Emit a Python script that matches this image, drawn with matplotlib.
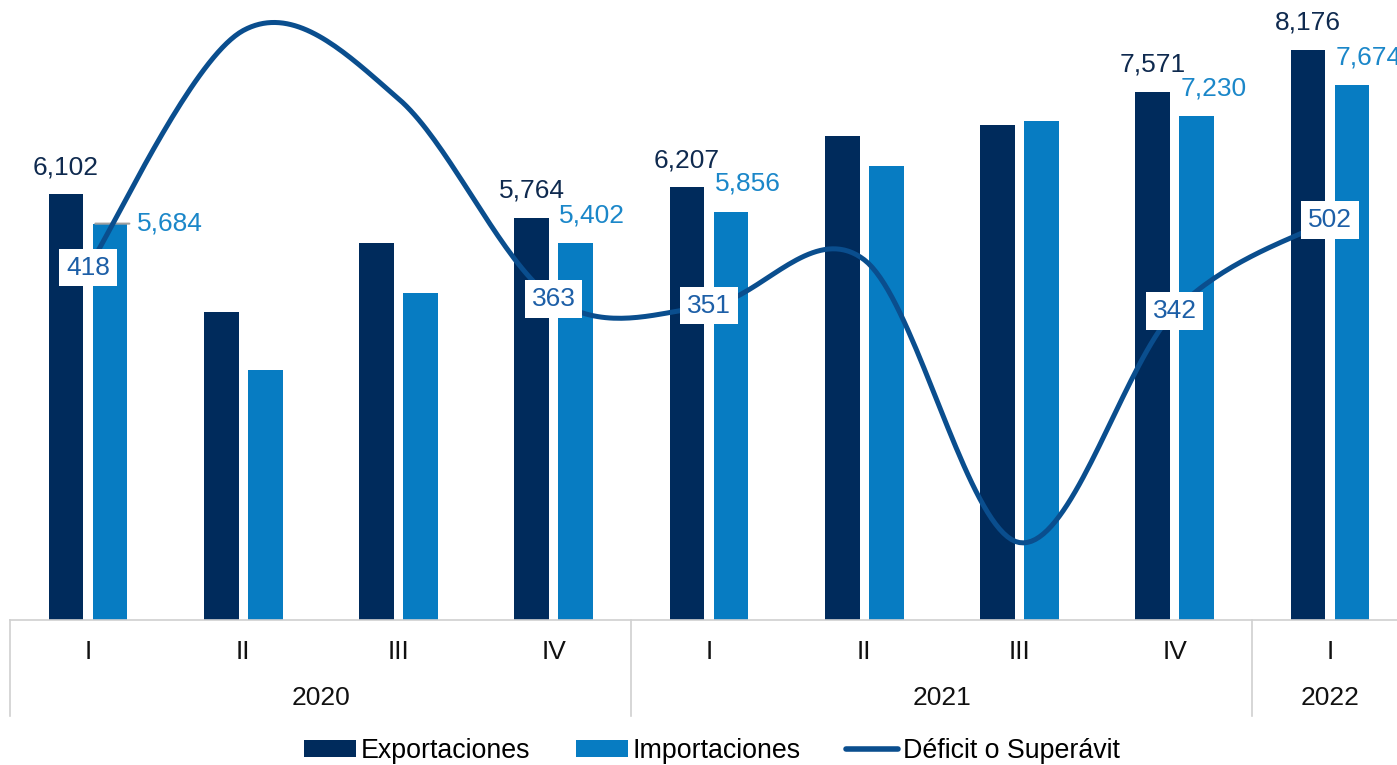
import numpy as np
import matplotlib
matplotlib.use("Agg")
import matplotlib.pyplot as plt
from matplotlib.lines import Line2D
from matplotlib.patches import Patch

# ---------------- data ----------------
quarters = ["I", "II", "III", "IV", "I", "II", "III", "IV", "I"]
years = ["2020", "2021", "2022"]
year_spans = [(0, 4), (4, 8), (8, 9)]
exportaciones = [6102, 4420, 5405, 5764, 6207, 6940, 7095, 7571, 8176]
importaciones = [5684, 3585, 4690, 5402, 5856, 6508, 7160, 7230, 7674]
balanza = [418, 835, 715, 363, 351, 432, -65, 342, 502]
exp_labels = ["6,102", None, None, "5,764", "6,207", None, None, "7,571", "8,176"]
imp_labels = ["5,684", None, None, "5,402", "5,856", None, None, "7,230", "7,674"]
bal_labels = ["418", None, None, "363", "351", None, None, "342", "502"]

# ---------------- style ----------------
C_EXP = "#002b5c"
C_IMP = "#077cc2"
C_LINE = "#0a4e8e"
C_LINE_TXT = "#1d5fa7"
C_IMP_TXT = "#1b87c9"
C_EXP_TXT = "#0f2a4f"
GRID = "#d0d0d0"
NUM_FONT = ["Liberation Sans", "DejaVu Sans"]
NARROW = ["Liberation Sans Narrow", "Liberation Sans", "DejaVu Sans"]

W, H = 1397, 765
fig = plt.figure(figsize=(W / 100, H / 100), dpi=100)
left_px, right_px, top_px, bot_px = 10.4, 1407.6, 0, 620
ax = fig.add_axes([left_px / W, 1 - bot_px / H, (right_px - left_px) / W, (bot_px - top_px) / H])
ax2 = ax.twinx()

n = len(quarters)
x = np.arange(n)
bw = 0.225
off = 0.1417

ax.bar(x - off, exportaciones, bw, color=C_EXP, zorder=2)
ax.bar(x + off, importaciones, bw, color=C_IMP, zorder=2)
ax.set_xlim(-0.5, n - 0.5)
ax.set_ylim(0, 620 * 14.34)
ax2.set_ylim((505.6 - 620) / 0.569, 505.6 / 0.569)


# Catmull-Rom smoothing (like Excel smoothed line)
def smooth(xs, ys, steps=40):
    xs = np.asarray(xs, float)
    ys = np.asarray(ys, float)
    P = np.column_stack([xs, ys])
    P = np.vstack([P[0], P, P[-1]])
    out = []
    for i in range(1, len(P) - 2):
        p0, p1, p2, p3 = P[i - 1], P[i], P[i + 1], P[i + 2]
        b0 = p1
        b1 = p1 + (p2 - p0) / 6
        b2 = p2 - (p3 - p1) / 6
        b3 = p2
        t = np.linspace(0, 1, steps)[:, None]
        seg = ((1 - t) ** 3) * b0 + 3 * ((1 - t) ** 2) * t * b1 + 3 * (1 - t) * t ** 2 * b2 + t ** 3 * b3
        out.append(seg if i == 1 else seg[1:])
    return np.vstack(out)


curve = smooth(x, balanza)
ax2.plot(curve[:, 0], curve[:, 1], color=C_LINE, lw=3.6, solid_capstyle="round", zorder=3)

for a in (ax, ax2):
    for s in a.spines.values():
        s.set_visible(False)
    a.set_yticks([])
    a.set_xticks([])
ax.spines["bottom"].set_visible(True)
ax.spines["bottom"].set_color(GRID)
ax.spines["bottom"].set_linewidth(1.2)
ax2.set_zorder(ax.get_zorder() + 1)
ax2.patch.set_visible(False)

FS = 19
# bar labels
for i in range(n):
    if exp_labels[i]:
        ax.annotate(exp_labels[i], (x[i] - off, exportaciones[i]), xytext=(0, 19.5),
                    textcoords="offset points", ha="center", va="center",
                    fontsize=FS, color=C_EXP_TXT, family=NUM_FONT, zorder=5)
    if imp_labels[i]:
        if i == 0:
            ax.annotate(imp_labels[i], (x[i] + off + bw / 2, importaciones[i]), xytext=(7, 0),
                        textcoords="offset points", ha="left", va="center",
                        fontsize=FS, color=C_IMP_TXT, family=NUM_FONT, zorder=5)
            ax.annotate("", (x[i] + off - bw / 2, importaciones[i]), xytext=(x[i] + off + bw / 2 + 0.03, importaciones[i]),
                        arrowprops=dict(arrowstyle="-", color="#a0a0a0", lw=1.5), zorder=4)
        else:
            ax.annotate(imp_labels[i], (x[i] + off, importaciones[i]), xytext=(12, 20),
                        textcoords="offset points", ha="center", va="center",
                        fontsize=FS, color=C_IMP_TXT, family=NUM_FONT, zorder=5)

for i in range(n):
    if bal_labels[i]:
        ax2.text(x[i], balanza[i], bal_labels[i], ha="center", va="center", fontsize=FS,
                 color=C_LINE_TXT, family=NUM_FONT, zorder=6,
                 bbox=dict(boxstyle="square,pad=0.25", fc="white", ec="none"))

# category axis (two levels)
trans = ax.get_xaxis_transform()
for i, q in enumerate(quarters):
    ax.text(x[i], -32 / 620, q, transform=trans, ha="center", va="center",
            fontsize=19, family=NARROW, color="#111111", clip_on=False)
for yr, (a0, a1) in zip(years, year_spans):
    ax.text((a0 + a1 - 1) / 2, -78 / 620, yr, transform=trans, ha="center", va="center",
            fontsize=19, family=NARROW, color="#111111", clip_on=False)
for b in [0, 4, 8]:
    ax.add_line(Line2D([b - 0.5, b - 0.5], [0, -96 / 620], transform=trans, color=GRID,
                       lw=1.2, clip_on=False))

# legend
handles = [Patch(facecolor=C_EXP, edgecolor="none"),
           Patch(facecolor=C_IMP, edgecolor="none"),
           Line2D([0], [0], color=C_LINE, lw=4, solid_capstyle="round")]
leg = fig.legend(handles, ["Exportaciones", "Importaciones", "Déficit o Superávit"],
                 loc="center", bbox_to_anchor=(712 / W, 1 - 751 / H), ncol=3, frameon=False,
                 prop={"family": NARROW, "size": 19.3}, handlelength=1.94, handleheight=0.58,
                 handletextpad=0.19, columnspacing=1.68, borderaxespad=0, borderpad=0)

fig.savefig("out.png", dpi=100)
